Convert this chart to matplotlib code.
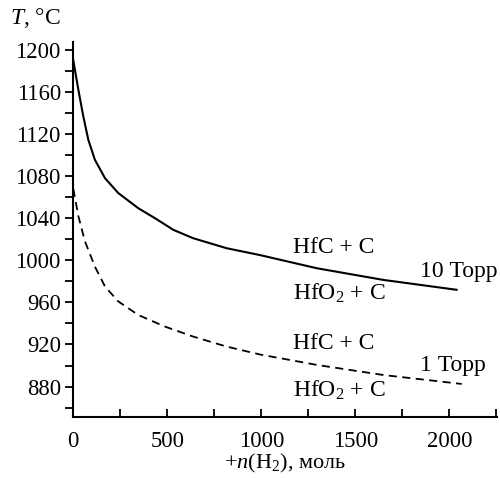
import matplotlib
matplotlib.use("Agg")
import matplotlib.pyplot as plt
from matplotlib.ticker import MultipleLocator

plt.rcParams['font.family'] = ['Liberation Serif', 'DejaVu Serif']
plt.rcParams['mathtext.fontset'] = 'custom'
plt.rcParams['mathtext.rm'] = 'Liberation Serif'
plt.rcParams['mathtext.it'] = 'Liberation Serif:italic'

# 10 Torr (solid)
n_10 = [0, 27, 53, 80, 115, 169, 239, 346, 435, 532, 638, 816, 993, 1295, 1649, 2039]
T_10 = [1190, 1162, 1137, 1114.5, 1095.5, 1078, 1064, 1049.5, 1040, 1029, 1021, 1011.5, 1005, 992.5, 981.4, 972]
# 1 Torr (dashed)
n_1 = [0, 27, 62, 115, 169, 239, 346, 488, 638, 816, 993, 1295, 1649, 2066]
T_1 = [1068, 1042, 1018, 994, 975, 961, 948, 937, 927.5, 918, 910.5, 900.6, 891, 882.5]

labels = [
    ("HfC + C", 1169, 1007.3),
    ("HfO$_2$ + C", 1169, 962.4),
    ("10 Торр", 1844, 984),
    ("HfC + C", 1169, 915.5),
    ("1 Торр", 1844, 895.2),
    ("HfO$_2$ + C", 1169, 870.4),
]

fig = plt.figure(figsize=(5, 4.78), dpi=100)
ax = fig.add_axes([73.3/500, 1-417.3/478, (497-73.3)/500, (417.3-41.5)/478])

ax.plot(n_10, T_10, color='black', lw=1.5)
ax.plot(n_1, T_1, color='black', lw=1.3, linestyle=(0, (4.5, 3)))

for txt, x, y in labels:
    ax.text(x, y, txt, fontsize=17, ha='left', va='baseline')

ax.set_xlim(0, 2254)
ax.set_ylim(850.8, 1208)
ax.spines['top'].set_visible(False)
ax.spines['right'].set_visible(False)
for s in ['left', 'bottom']:
    ax.spines[s].set_linewidth(1.5)

ax.xaxis.set_major_locator(MultipleLocator(500))
ax.xaxis.set_minor_locator(MultipleLocator(250))
ax.yaxis.set_major_locator(MultipleLocator(40))
ax.yaxis.set_minor_locator(MultipleLocator(20))
ax.set_yticks(range(880, 1201, 40))
ax.tick_params(axis='x', which='both', direction='in', length=6, width=1.3, labelsize=16.3, pad=10)
ax.tick_params(axis='y', which='both', direction='out', length=6, width=1.3, labelsize=16.3, pad=3)

ax.set_xlabel("+$n$(H$_2$), моль", fontsize=16, labelpad=-0.5)
fig.text(10/500, 1-18/478, "$T$, °C", fontsize=17, ha='left', va='center')

fig.savefig("out.png", dpi=100)
